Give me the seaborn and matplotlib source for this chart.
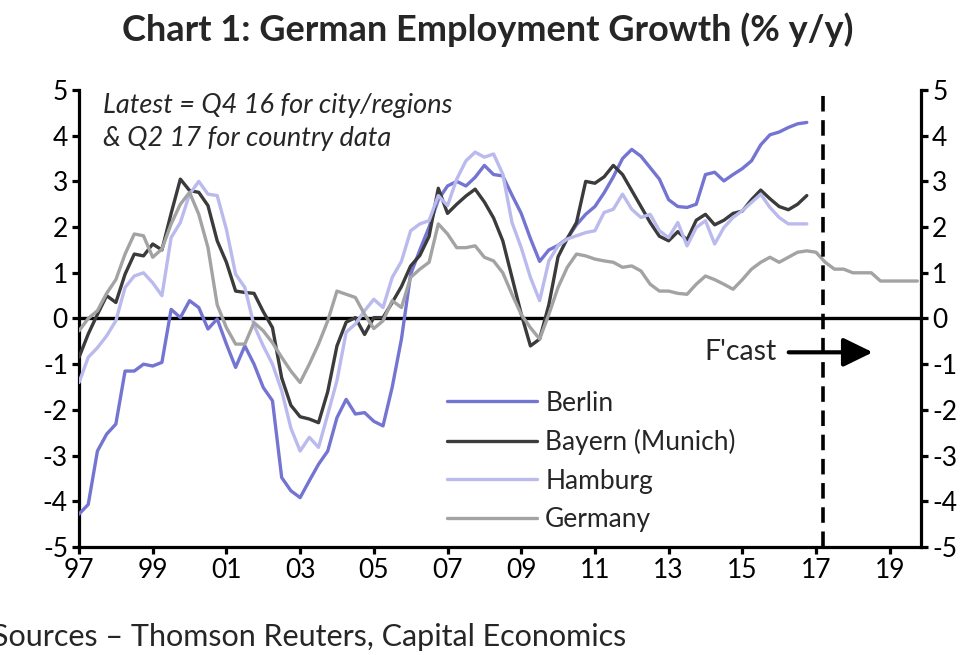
#German employment growth chart, regions vs country
import numpy as np
import pandas as pd
import matplotlib
matplotlib.use("Agg")
import matplotlib.pyplot as plt
import seaborn as sns

##DATA (% y/y, quarterly from Q1 1997)##
berlin = [-4.28, -4.07, -2.9, -2.53,
          -2.31, -1.15, -1.15, -1.0,
          -1.04, -0.96, 0.2, 0.02,
          0.39, 0.24, -0.23, -0.01,
          -0.56, -1.07, -0.6, -1.0,
          -1.51, -1.8, -3.48, -3.77,
          -3.92, -3.55, -3.19, -2.9,
          -2.17, -1.77, -2.09, -2.06,
          -2.25, -2.35, -1.5, -0.45,
          0.97, 1.5, 2.0, 2.6,
          2.9, 3.0, 2.9, 3.09,
          3.35, 3.15, 3.12, 2.7,
          2.3, 1.75, 1.25, 1.5,
          1.6, 1.75, 2.05, 2.28,
          2.45, 2.75, 3.1, 3.5,
          3.7, 3.55, 3.3, 3.05,
          2.6, 2.45, 2.43, 2.5,
          3.15, 3.2, 3.01, 3.15,
          3.28, 3.45, 3.8, 4.02,
          4.08, 4.18, 4.26, 4.29]

bayern = [-0.85, -0.34, 0.09, 0.5,
          0.35, 0.97, 1.41, 1.37,
          1.63, 1.5, 2.3, 3.05,
          2.8, 2.76, 2.47, 1.7,
          1.23, 0.6, 0.57, 0.55,
          0.15, -0.2, -1.3, -1.9,
          -2.15, -2.2, -2.28, -1.6,
          -0.6, -0.08, 0.02, -0.35,
          0.02, 0.02, 0.35, 0.7,
          1.15, 1.38, 1.8, 2.85,
          2.3, 2.5, 2.68, 2.83,
          2.55, 2.2, 1.7, 0.9,
          0.1, -0.6, -0.45, 0.3,
          1.35, 1.75, 2.1, 3.0,
          2.96, 3.1, 3.35, 3.15,
          2.8, 2.45, 2.1, 1.8,
          1.7, 1.9, 1.72, 2.15,
          2.28, 2.05, 2.15, 2.3,
          2.35, 2.6, 2.81, 2.62,
          2.45, 2.38, 2.5, 2.69]

hamburg = [-1.4, -0.85, -0.64, -0.38,
           -0.05, 0.68, 0.93, 1.0,
           0.78, 0.5, 1.77, 2.1,
           2.72, 3.0, 2.72, 2.69,
           1.95, 0.97, 0.68, -0.15,
           -0.6, -1.0, -1.58, -2.4,
           -2.9, -2.6, -2.82, -2.1,
           -1.36, -0.3, -0.12, 0.17,
           0.42, 0.24, 0.9, 1.25,
           1.92, 2.07, 2.14, 2.69,
           2.47, 3.05, 3.45, 3.64,
           3.53, 3.6, 3.16, 2.1,
           1.55, 0.9, 0.39, 1.26,
           1.59, 1.74, 1.81, 1.88,
           1.92, 2.32, 2.39, 2.72,
           2.39, 2.21, 2.28, 1.92,
           1.77, 2.1, 1.59, 1.99,
           2.14, 1.63, 1.99, 2.21,
           2.36, 2.54, 2.72, 2.43,
           2.21, 2.07, 2.07, 2.07]

#Germany runs on to the end of the forecast (Q4 19)
germany = [-0.27, 0.0, 0.17, 0.55,
           0.85, 1.41, 1.85, 1.81,
           1.34, 1.52, 2.07, 2.5,
           2.76, 2.28, 1.55, 0.3,
           -0.2, -0.56, -0.56, -0.09,
           -0.27, -0.53, -0.85, -1.15,
           -1.4, -1.0, -0.56, -0.05,
           0.6, 0.53, 0.46, 0.09,
           -0.22, -0.05, 0.39, 0.24,
           0.9, 1.08, 1.23, 2.07,
           1.85, 1.55, 1.55, 1.59,
           1.34, 1.26, 1.0, 0.53,
           0.09, -0.2, -0.45, 0.09,
           0.68, 1.12, 1.41, 1.37,
           1.3, 1.26, 1.23, 1.12,
           1.15, 1.04, 0.75, 0.6,
           0.6, 0.55, 0.53, 0.75,
           0.93, 0.85, 0.75, 0.64,
           0.85, 1.08, 1.23, 1.34,
           1.23, 1.34, 1.45, 1.48,
           1.45, 1.23, 1.08, 1.08,
           1.0, 1.0, 1.0, 0.82,
           0.82, 0.82, 0.82, 0.82]

series_names = ["Berlin", "Bayern (Munich)", "Hamburg", "Germany"]
series_colors = ["#7474d2", "#3b3b3b", "#babaee", "#a3a3a3"]
year_ticks = list(range(1997, 2020, 2))
year_labels = ["%02d" % (y % 100) for y in year_ticks]
forecast_start = 2017.18

#building the long table for seaborn
frames = []
for name, vals in zip(series_names, [berlin, bayern, hamburg, germany]):
    frames.append(pd.DataFrame({"region": name,
                                "year": 1997 + np.arange(len(vals)) / 4,
                                "growth": vals}))
data = pd.concat(frames, ignore_index=True)

##PLOTTING##
sns.set_style("ticks")
plt.rcParams["font.family"] = ["Lato", "DejaVu Sans"]

fig = plt.figure(figsize=(9.6, 6.55), dpi=100)
ax = fig.add_axes([0.0823, 0.1649, 0.8771, 0.6977])

ax.axhline(0, color="black", lw=2.4, zorder=1)
sns.lineplot(data=data, x="year", y="growth", hue="region",
             hue_order=series_names, palette=series_colors,
             lw=2.4, ax=ax, zorder=3)
ax.axvline(forecast_start, color="black", lw=2.6,
           linestyle=(0, (4.3, 2.4)), zorder=4)

ax.set_xlim(1997, 2019.85)
ax.set_ylim(-5, 5)
ax.set_xticks(year_ticks)
ax.set_xticklabels(year_labels)
ax.set_yticks(range(-5, 6))
ax.set_yticklabels([str(v) for v in range(-5, 6)])
ax.set_xlabel("")
ax.set_ylabel("")

for side in ["left", "right", "bottom"]:
    ax.spines[side].set_visible(True)
    ax.spines[side].set_linewidth(2.3)
    ax.spines[side].set_color("black")
ax.spines["top"].set_visible(False)
ax.tick_params(axis="both", direction="out", length=5, width=2.3,
               labelsize=19, colors="black", pad=3)
ax.tick_params(axis="y", right=True, labelright=True)

#legend without frame
ax.legend(loc="upper left", bbox_to_anchor=(0.437, 0.342),
          frameon=False, fontsize=19, handlelength=3.4,
          handletextpad=0.32, labelspacing=0.51, borderaxespad=0,
          borderpad=0)

ax.text(1997.65, 4.29, "Latest = Q4 16 for city/regions\n& Q2 17 for country data",
        fontsize=19.5, style="italic", ha="left", va="center", linespacing=1.4)

ax.annotate("", xy=(2018.54, -0.74), xytext=(2016.26, -0.74),
            arrowprops=dict(arrowstyle="-|>,head_length=0.45,head_width=0.22",
                            lw=3, color="black", mutation_scale=40,
                            shrinkA=0, shrinkB=0))
ax.text(2015.94, -0.74, "F'cast", fontsize=20.5, ha="right", va="center")

fig.text(0.508, 0.954, "Chart 1: German Employment Growth (% y/y)",
         fontsize=26, fontweight="bold", ha="center", va="center")
fig.text(-0.008, 0.027, "Sources \u2013 Thomson Reuters, Capital Economics",
         fontsize=22, ha="left", va="center")

fig.savefig("out.png", dpi=100)
plt.close()
